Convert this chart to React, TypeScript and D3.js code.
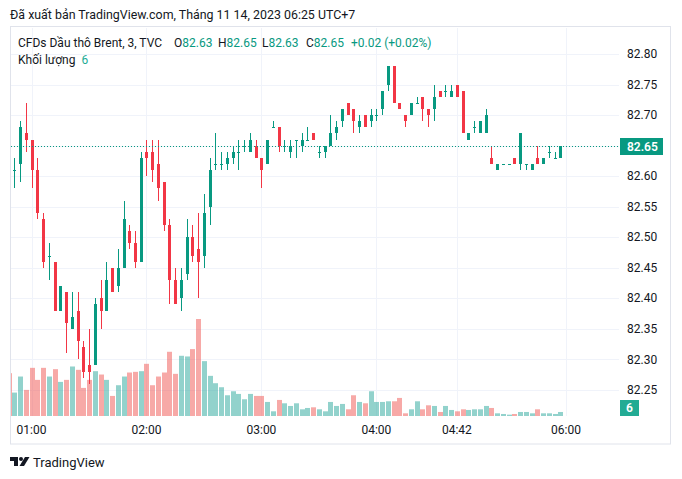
import React, { useEffect, useRef } from "react";
import * as d3 from "d3";

const W = 682;
const H = 479;

// 3-minute bars, Brent CFD. First bar sits half outside the left edge.
const opens = [
  82.63, 82.61, 82.62, 82.67, 82.66, 82.61, 82.53, 82.47, 82.46, 82.38,
  82.41, 82.35, 82.38, 82.32, 82.29, 82.29, 82.4, 82.38, 82.45, 82.42,
  82.45, 82.51, 82.49, 82.46, 82.64, 82.64, 82.62, 82.59, 82.52, 82.43,
  82.4, 82.44, 82.5, 82.48, 82.47, 82.55, 82.62, 82.62, 82.62, 82.63,
  82.64, 82.65, 82.64, 82.65, 82.63, 82.62, 82.68, 82.68, 82.65, 82.64,
  82.66, 82.65, 82.66, 82.67, 82.64, 82.64, 82.65, 82.67, 82.69, 82.72,
  82.71, 82.68, 82.7, 82.69, 82.7, 82.71, 82.75, 82.78, 82.72, 82.7,
  82.7, 82.72, 82.73, 82.71, 82.71, 82.74, 82.74, 82.73, 82.75, 82.74,
  82.66, 82.68, 82.67, 82.67, 82.63, 82.61, 82.62, 82.62, 82.63, 82.62,
  82.62, 82.61, 82.63, 82.62, 82.64, 82.63, 82.63,
];
const highs = [
  82.64, 82.63, 82.69, 82.72, 82.66, 82.63, 82.54, 82.49, 82.46, 82.42,
  82.41, 82.41, 82.41, 82.33, 82.35, 82.4, 82.43, 82.46, 82.45, 82.48,
  82.56, 82.52, 82.51, 82.64, 82.66, 82.66, 82.66, 82.59, 82.53, 82.45,
  82.45, 82.53, 82.52, 82.54, 82.57, 82.63, 82.67, 82.64, 82.64, 82.65,
  82.66, 82.66, 82.67, 82.66, 82.63, 82.66, 82.69, 82.68, 82.66, 82.66,
  82.66, 82.67, 82.68, 82.67, 82.65, 82.65, 82.7, 82.69, 82.71, 82.72,
  82.71, 82.7, 82.7, 82.71, 82.71, 82.74, 82.78, 82.78, 82.72, 82.7,
  82.72, 82.73, 82.73, 82.71, 82.75, 82.74, 82.75, 82.75, 82.75, 82.74,
  82.67, 82.69, 82.69, 82.71, 82.65, 82.62, 82.62, 82.62, 82.63, 82.67,
  82.62, 82.62, 82.65, 82.63, 82.65, 82.64, 82.65,
];
const lows = [
  82.59, 82.58, 82.59, 82.64, 82.58, 82.53, 82.45, 82.43, 82.38, 82.38,
  82.31, 82.35, 82.3, 82.27, 82.26, 82.29, 82.35, 82.38, 82.41, 82.41,
  82.45, 82.48, 82.45, 82.46, 82.6, 82.59, 82.56, 82.51, 82.39, 82.39,
  82.38, 82.43, 82.46, 82.4, 82.45, 82.52, 82.61, 82.61, 82.61, 82.62,
  82.61, 82.64, 82.64, 82.63, 82.58, 82.62, 82.68, 82.64, 82.64, 82.63,
  82.63, 82.64, 82.66, 82.66, 82.63, 82.63, 82.65, 82.66, 82.68, 82.7,
  82.67, 82.67, 82.68, 82.68, 82.69, 82.7, 82.74, 82.72, 82.71, 82.68,
  82.7, 82.72, 82.69, 82.68, 82.69, 82.73, 82.73, 82.73, 82.73, 82.67,
  82.66, 82.67, 82.67, 82.67, 82.62, 82.61, 82.62, 82.62, 82.62, 82.61,
  82.61, 82.61, 82.62, 82.62, 82.63, 82.63, 82.63,
];
const closes = [
  82.6, 82.61, 82.68, 82.66, 82.61, 82.54, 82.46, 82.47, 82.38, 82.42,
  82.36, 82.37, 82.33, 82.28, 82.28, 82.39, 82.38, 82.43, 82.41, 82.45,
  82.53, 82.49, 82.46, 82.63, 82.63, 82.61, 82.58, 82.52, 82.43, 82.39,
  82.43, 82.5, 82.47, 82.46, 82.54, 82.61, 82.62, 82.62, 82.63, 82.64,
  82.64, 82.65, 82.66, 82.63, 82.61, 82.66, 82.68, 82.65, 82.65, 82.65,
  82.66, 82.66, 82.66, 82.66, 82.64, 82.65, 82.67, 82.68, 82.71, 82.7,
  82.69, 82.69, 82.68, 82.7, 82.7, 82.74, 82.78, 82.72, 82.71, 82.69,
  82.72, 82.72, 82.71, 82.7, 82.73, 82.73, 82.74, 82.74, 82.73, 82.67,
  82.67, 82.68, 82.69, 82.7, 82.62, 82.62, 82.62, 82.62, 82.62, 82.67,
  82.62, 82.62, 82.62, 82.63, 82.64, 82.63, 82.65,
];
const volumes = [
  64, 35, 59, 39, 72, 54, 72, 59, 70, 51,
  54, 74, 69, 42, 54, 67, 62, 54, 30, 46,
  59, 65, 66, 67, 78, 46, 59, 65, 96, 63,
  90, 89, 100, 145, 82, 60, 49, 43, 31, 37,
  33, 25, 33, 30, 30, 21, 7, 24, 19, 15,
  19, 10, 12, 13, 10, 7, 21, 15, 18, 10,
  31, 21, 19, 37, 21, 21, 22, 22, 27, 4,
  10, 22, 10, 16, 15, 6, 15, 9, 7, 10,
  9, 10, 10, 15, 12, 4, 3, 2, 3, 6,
  6, 4, 10, 4, 4, 3, 6,
];

const priceTicks = [82.8, 82.75, 82.7, 82.65, 82.6, 82.55, 82.5, 82.45, 82.4, 82.35, 82.3, 82.25];
const timeLabels = ["01:00", "02:00", "03:00", "04:00", "04:42", "06:00"];
const timeBars = [4, 24, 44, 64, 78, 97]; // bar index of each label

const UP = "#089981";
const DOWN = "#f23645";
const TEXT = "#131722";
const FONT = "Roboto, 'Noto Sans', sans-serif";

function App() {
  const ref = useRef<SVGSVGElement>(null);

  useEffect(() => {
    const svg = d3.select(ref.current);
    svg.selectAll("*").remove();

    const plotL = 10, plotR = 619, plotT = 27, plotB = 416;

    const x = d3.scaleLinear().domain([1, 96]).range([14.3, 560.3]);
    const y = d3.scaleLinear().domain([82.25, 82.8]).range([389.9, 54]);
    const yv = d3.scaleLinear().domain([0, d3.max(volumes) as number]).range([plotB, 319]);

    svg.append("rect").attr("width", W).attr("height", H).attr("fill", "#fff");

    // header
    svg.append("text")
      .attr("x", 10).attr("y", 19)
      .attr("font-family", FONT).attr("font-size", 12.4).attr("fill", TEXT)
      .text("Đã xuất bản TradingView.com, Tháng 11 14, 2023 06:25 UTC+7");

    // frame
    svg.append("rect")
      .attr("x", 10.5).attr("y", 26.5).attr("width", 660).attr("height", 417.5)
      .attr("fill", "none").attr("stroke", "#e0e3eb");

    // grid
    const grid = svg.append("g").attr("stroke", "#f0f3fa").attr("stroke-width", 1);
    priceTicks.forEach((p) => {
      const yy = Math.round(y(p)) + 0.5;
      grid.append("line").attr("x1", plotL + 1).attr("x2", plotR).attr("y1", yy).attr("y2", yy);
    });
    timeBars.forEach((b) => {
      const xx = Math.round(x(b)) + 0.5;
      grid.append("line").attr("x1", xx).attr("x2", xx).attr("y1", plotT + 1).attr("y2", plotB);
    });

    svg.append("clipPath").attr("id", "plotclip")
      .append("rect").attr("x", plotL + 1).attr("y", plotT + 1)
      .attr("width", plotR - plotL - 1).attr("height", plotB - plotT);

    const plot = svg.append("g").attr("clip-path", "url(#plotclip)");

    // volume
    volumes.forEach((v, i) => {
      const cx = Math.round(x(i));
      const up = closes[i] >= opens[i];
      plot.append("rect")
        .attr("x", cx - 2).attr("width", 5)
        .attr("y", yv(v)).attr("height", plotB - yv(v))
        .attr("fill", up ? "rgba(38,166,154,0.5)" : "rgba(239,83,80,0.5)");
    });

    // candles
    opens.forEach((o, i) => {
      const c = closes[i];
      const cx = Math.round(x(i));
      const col = c >= o ? UP : DOWN;
      const yh = y(highs[i]), yl = y(lows[i]);
      plot.append("rect")
        .attr("x", cx).attr("width", 1)
        .attr("y", Math.round(yh)).attr("height", Math.max(1, Math.round(yl) - Math.round(yh)))
        .attr("fill", col);
      const top = Math.round(y(Math.max(o, c)));
      const bot = Math.round(y(Math.min(o, c)));
      plot.append("rect")
        .attr("x", cx - 1).attr("width", 3)
        .attr("y", top).attr("height", Math.max(1, bot - top))
        .attr("fill", col);
    });

    // last price dotted line
    const last = closes[closes.length - 1];
    const ly = Math.round(y(last)) + 0.5;
    svg.append("line")
      .attr("x1", plotL + 1).attr("x2", plotR).attr("y1", ly).attr("y2", ly)
      .attr("stroke", UP).attr("stroke-dasharray", "1,2");

    // price axis
    const axis = svg.append("g").attr("font-family", FONT).attr("font-size", 12).attr("fill", TEXT);
    priceTicks.forEach((p) => {
      axis.append("text")
        .attr("x", 627).attr("y", y(p)).attr("dy", "0.35em")
        .text(p.toFixed(2));
    });

    svg.append("rect")
      .attr("x", 620).attr("y", ly - 8.5).attr("width", 43).attr("height", 17)
      .attr("fill", UP);
    svg.append("text")
      .attr("x", 627).attr("y", ly).attr("dy", "0.35em")
      .attr("font-family", FONT).attr("font-size", 12).attr("font-weight", 600).attr("fill", "#fff")
      .text(last.toFixed(2));

    const lastVol = volumes[volumes.length - 1];
    svg.append("rect")
      .attr("x", 620).attr("y", 400).attr("width", 19).attr("height", 16)
      .attr("fill", "#22ab94");
    svg.append("text")
      .attr("x", 629.5).attr("y", 408).attr("dy", "0.35em").attr("text-anchor", "middle")
      .attr("font-family", FONT).attr("font-size", 12).attr("font-weight", 600).attr("fill", "#fff")
      .text(String(lastVol));

    // time axis
    timeBars.forEach((b, i) => {
      axis.append("text")
        .attr("x", x(b)).attr("y", 430).attr("dy", "0.35em").attr("text-anchor", "middle")
        .text(timeLabels[i]);
    });

    // legend
    const prev = closes[closes.length - 2];
    const chg = last - prev;
    const leg = svg.append("g").attr("font-family", FONT).attr("font-size", 12).attr("fill", TEXT);
    leg.append("text").attr("x", 18).attr("y", 46.5).text("CFDs Dầu thô Brent, 3, TVC");
    const ohlc: [string, number, number][] = [
      ["O", opens[opens.length - 1], 174],
      ["H", highs[highs.length - 1], 218],
      ["L", lows[lows.length - 1], 262],
      ["C", last, 306],
    ];
    ohlc.forEach(([k, v, xx]) => {
      const t = leg.append("text").attr("x", xx).attr("y", 46.5);
      t.append("tspan").text(k);
      t.append("tspan").attr("fill", UP).text(v.toFixed(2));
    });
    leg.append("text").attr("x", 351).attr("y", 46.5).attr("fill", UP)
      .text(`+${chg.toFixed(2)} (+${((chg / prev) * 100).toFixed(2)}%)`);
    const vl = leg.append("text").attr("x", 18).attr("y", 63.5);
    vl.append("tspan").text("Khối lượng");
    vl.append("tspan").attr("dx", 6).attr("fill", "#22ab94").text(String(lastVol));

    // footer logo
    const logo = svg.append("g").attr("transform", "translate(10,457)").attr("fill", TEXT);
    logo.append("path").attr("d", "M0 0H8V9H4V4H0Z");
    logo.append("circle").attr("cx", 11).attr("cy", 2).attr("r", 2);
    logo.append("path").attr("d", "M15 0H19.5L14 9H9.5Z");
    svg.append("text")
      .attr("x", 33).attr("y", 467)
      .attr("font-family", FONT).attr("font-size", 13).attr("fill", TEXT)
      .text("TradingView");
  }, []);

  return (
    <div style={{ position: "absolute", left: 0, top: 0 }}>
      <svg ref={ref} width={W} height={H} style={{ display: "block" }} />
    </div>
  );
}

export default App;
